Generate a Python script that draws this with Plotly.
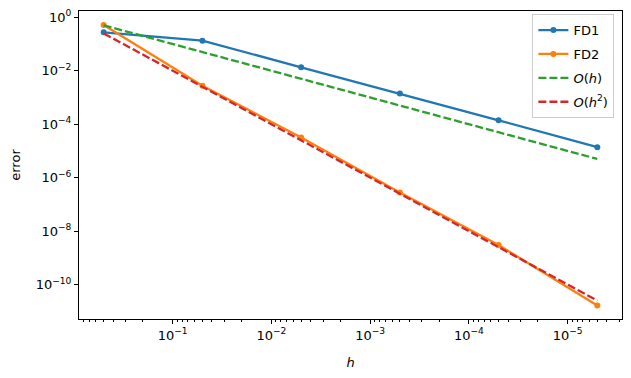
import plotly.graph_objects as go

h = [0.5, 0.05, 0.005, 0.0005, 0.00005, 0.000005]
fd1 = [0.275, 0.134, 0.0135, 0.0014, 0.00014, 0.0000138]
fd2 = [0.515, 0.00277, 0.000032, 2.77e-7, 3.0e-9, 1.65e-11]
ref1 = [0.5, 0.05, 0.005, 0.0005, 0.00005, 0.000005]
ref2 = [0.25, 0.0025, 0.000025, 2.5e-7, 2.5e-9, 2.5e-11]

x_tick_exp = [-1, -2, -3, -4, -5]
y_tick_exp = [0, -2, -4, -6, -8, -10]

def sup(e):
    s = str(e).replace("-", "\u2212")
    return "10<sup>" + s + "</sup>"

x_minor = [m * 10.0 ** e for e in range(-6, 0) for m in range(2, 10)]

FONT = "DejaVu Sans"
FS = 13
fig = go.Figure()
fig.add_trace(go.Scatter(x=h, y=fd1, mode="lines+markers", name="FD1", legendgroup="a",
                         line=dict(color="#1f77b4", width=2.3),
                         marker=dict(size=6, color="#1f77b4")))
fig.add_trace(go.Scatter(x=h, y=fd2, mode="lines+markers", name="FD2", legendgroup="b",
                         line=dict(color="#ff7f0e", width=2.3),
                         marker=dict(size=6, color="#ff7f0e")))
fig.add_trace(go.Scatter(x=h, y=ref1, mode="lines", name="<i>O</i>(<i>h</i>)", legendgroup="c",
                         line=dict(color="#2ca02c", width=2.3, dash="8px,3px")))
fig.add_trace(go.Scatter(x=h, y=ref2, mode="lines", name="<i>O</i>(<i>h</i><sup>2</sup>)", legendgroup="d",
                         line=dict(color="#d62728", width=2.3, dash="8px,3px")))

# page body has an 8px margin, so the figure is sized to fit 631x378 with it
fig.update_layout(
    template="none",
    width=615, height=362,
    margin=dict(l=71, r=1, t=3, b=51),
    plot_bgcolor="white", paper_bgcolor="white",
    font=dict(family=FONT, size=FS, color="black"),
    showlegend=True,
    legend=dict(x=0.986, y=0.99, xanchor="right", yanchor="top",
                bordercolor="#cccccc", borderwidth=1, bgcolor="rgba(255,255,255,0.8)",
                font=dict(size=FS), itemwidth=30, tracegroupgap=4,
                traceorder="grouped"),
)
fig.update_xaxes(
    type="log", range=[-0.051, -5.551], automargin=False,
    showline=True, linecolor="black", linewidth=1, mirror=True,
    showgrid=False, zeroline=False,
    ticks="outside", ticklen=4, tickcolor="black", tickwidth=1,
    tickvals=[10.0 ** e for e in x_tick_exp], ticktext=[sup(e) for e in x_tick_exp],
    tickfont=dict(size=FS),
    minor=dict(tickvals=x_minor, ticks="outside", ticklen=2, tickcolor="black", tickwidth=1, showgrid=False),
    title=dict(text="<i>h</i>", standoff=17, font=dict(size=FS)),
)
fig.update_yaxes(
    type="log", range=[-11.29, 0.236], automargin=False,
    showline=True, linecolor="black", linewidth=1, mirror=True,
    showgrid=False, zeroline=False,
    ticks="outside", ticklen=4, tickcolor="black", tickwidth=1,
    tickvals=[10.0 ** e for e in y_tick_exp], ticktext=[sup(e) for e in y_tick_exp],
    tickfont=dict(size=FS),
    title=dict(text="error", standoff=13, font=dict(size=FS)),
)
fig.write_html("out.html")
